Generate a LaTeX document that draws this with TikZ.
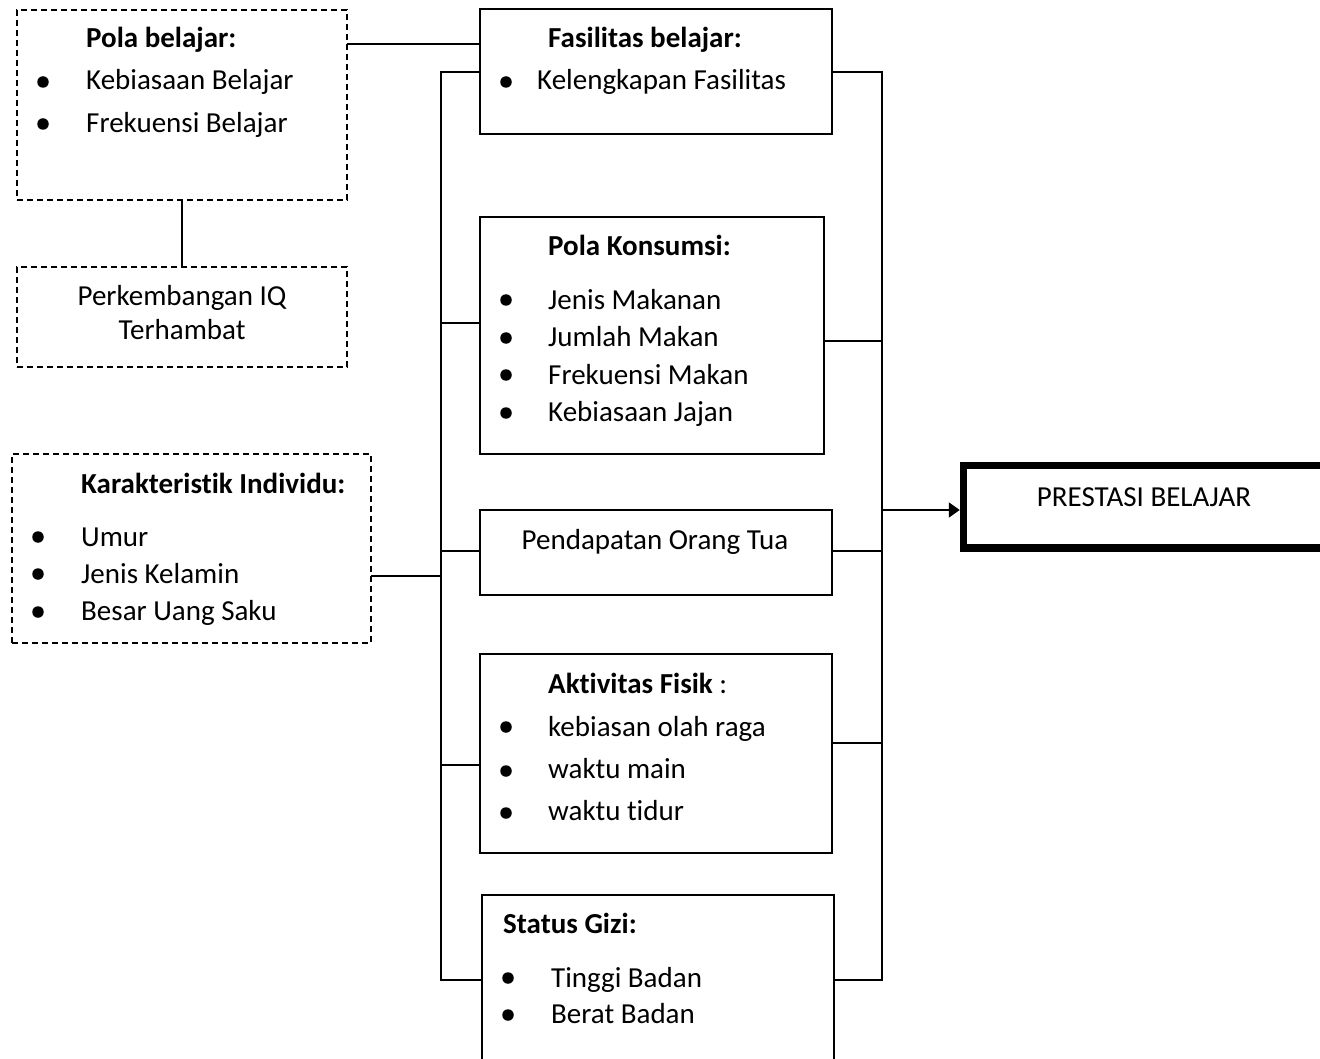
\documentclass[tikz,border=0pt]{standalone}
\usepackage{fontspec}
\setmainfont{Carlito}[Ligatures={NoCommon}]
\usetikzlibrary{arrows.meta}
\begin{document}
\begin{tikzpicture}[x=1pt,y=-1pt,
  box/.style={draw, line width=2pt, inner sep=0pt, outer sep=0pt, anchor=north west},
  dbox/.style={box, line width=2pt, dash pattern=on 6pt off 4pt},
  thickbox/.style={box, line width=7.5pt},
  txt/.style={anchor=base west, inner sep=0pt, font=\fontsize{29}{34}\selectfont},
  btxt/.style={txt, font=\fontsize{29}{34}\selectfont\bfseries},
  ctxt/.style={txt, anchor=base},
  wire/.style={line width=2pt},
  dot/.style={circle, fill, draw=none, inner sep=0pt, minimum size=11.5pt}
]
\useasboundingbox (0,0) rectangle (1320,1059);

% boxes
\node[dbox, minimum width=330pt, minimum height=190pt] (pb) at (17,10) {};
\node[dbox, minimum width=330pt, minimum height=100pt] (iq) at (17,267) {};
\node[dbox, minimum width=359pt, minimum height=189pt] (ki) at (12,454) {};
\node[box, minimum width=352pt, minimum height=125pt] (fb) at (480,9) {};
\node[box, minimum width=344pt, minimum height=237pt] (pk) at (480,217) {};
\node[box, minimum width=352pt, minimum height=85pt] (po) at (480,510) {};
\node[box, minimum width=352pt, minimum height=199pt] (af) at (480,654) {};
\node[box, minimum width=352pt, minimum height=200pt] (sg) at (482,895) {};
\node[thickbox, minimum width=450pt, minimum height=82.5pt] (pr) at (963.5,465.5) {};

% texts: Pola belajar
\node[btxt] (t1) at (86,48) {Pola belajar:};
\node[dot] (d1) at (43,82) {};
\node[txt] (t2) at (86,90) {Kebiasaan Belajar};
\node[dot] (d2) at (43,124) {};
\node[txt] (t3) at (86,133) {Frekuensi Belajar};
% IQ
\node[ctxt] (t4) at (182,306) {Perkembangan IQ};
\node[ctxt] (t5) at (182,339) {Terhambat};
% Karakteristik
\node[btxt] (t6) at (81,493) {Karakteristik Individu:};
\node[dot] (d3) at (38,537) {};
\node[txt] (t7) at (81,546) {Umur};
\node[dot] (d4) at (38,574) {};
\node[txt] (t8) at (81,583) {Jenis Kelamin};
\node[dot] (d5) at (38,612) {};
\node[txt] (t9) at (81,620) {Besar Uang Saku};
% Fasilitas
\node[btxt] (t10) at (548,48) {Fasilitas belajar:};
\node[dot] (d6) at (506,82) {};
\node[txt] (t11) at (537,90) {Kelengkapan Fasilitas};
% Pola Konsumsi
\node[btxt] (t12) at (548,256) {Pola Konsumsi:};
\node[dot] (d7) at (506,300) {};
\node[txt] (t13) at (548,309) {Jenis Makanan};
\node[dot] (d8) at (506,338) {};
\node[txt] (t14) at (548,346) {Jumlah Makan};
\node[dot] (d9) at (506,375) {};
\node[txt] (t15) at (548,384) {Frekuensi Makan};
\node[dot] (d10) at (506,413) {};
\node[txt] (t16) at (548,421) {Kebiasaan Jajan};
% Pendapatan
\node[ctxt] (t17) at (655,549) {Pendapatan Orang Tua};
% Aktivitas
\node[txt] (t18) at (548,693) {\textbf{Aktivitas Fisik} :};
\node[dot] (d11) at (506,727) {};
\node[txt] (t19) at (548,736) {kebiasan olah raga};
\node[dot] (d12) at (506,771) {};
\node[txt] (t20) at (548,778) {waktu main};
\node[dot] (d13) at (506,813) {};
\node[txt] (t21) at (548,820) {waktu tidur};
% Status Gizi
\node[btxt] (t22) at (503,933) {Status Gizi:};
\node[dot] (d14) at (508,978) {};
\node[txt] (t23) at (551,987) {Tinggi Badan};
\node[dot] (d15) at (508,1015) {};
\node[txt] (t24) at (551,1023) {Berat Badan};
% Prestasi
\node[ctxt] (t25) at (1144,506) {PRESTASI BELAJAR};

% connector coordinates
\coordinate (j1) at (0,44);
\coordinate (lt) at (441,72);
\coordinate (lb) at (441,980);
\coordinate (rt) at (882,72);
\coordinate (rb) at (882,980);
\coordinate (y1) at (0,323);
\coordinate (y2) at (0,341);
\coordinate (y3) at (0,551);
\coordinate (y4) at (0,765);
\coordinate (y5) at (0,743);
\coordinate (y6) at (0,576);
\coordinate (y7) at (0,510);

% connectors
\draw[wire] (pb.east |- j1) -- (fb.west |- j1);
\draw[wire] (pb.south) -- (iq.north);
\draw[wire] (fb.west |- lt) -- (lt) -- (lb) -- (sg.west |- lb);
\draw[wire] (fb.east |- rt) -- (rt) -- (rb) -- (sg.east |- rb);
\draw[wire] (lt |- y1) -- (pk.west |- y1);
\draw[wire] (pk.east |- y2) -- (rt |- y2);
\draw[wire] (lt |- y3) -- (po.west |- y3);
\draw[wire] (po.east |- y3) -- (rt |- y3);
\draw[wire] (lt |- y4) -- (af.west |- y4);
\draw[wire] (af.east |- y5) -- (rt |- y5);
\draw[wire] (ki.east |- y6) -- (lt |- y6);
\draw[wire, -{Triangle[length=11pt,width=15pt]}, shorten >=3.75pt] (rt |- y7) -- (pr.west |- y7);
\end{tikzpicture}
\end{document}
